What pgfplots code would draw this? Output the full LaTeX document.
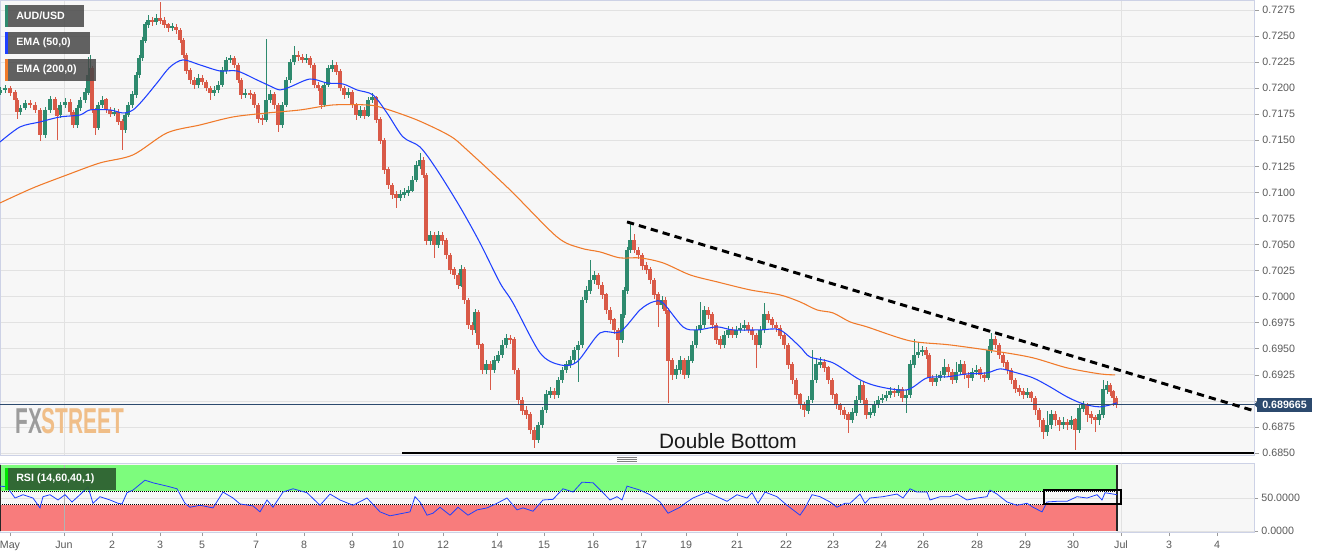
\documentclass[border=0pt]{standalone}
\usepackage{fontspec}
\setmainfont{Liberation Sans}
\usepackage{graphicx}
\usepackage{pgfplots}
\usepackage{pgfplotstable}
\pgfplotsset{compat=1.18}
\definecolor{cup}{HTML}{2E8A6E}
\definecolor{cdn}{HTML}{D95A48}
\definecolor{emaA}{HTML}{1F40FF}
\definecolor{emaB}{HTML}{F07A2A}
\definecolor{bg}{HTML}{F7F7F7}
\definecolor{framec}{HTML}{CDD2E6}
\definecolor{gridc}{HTML}{E2E2E2}
\definecolor{lbl}{HTML}{5A5A5A}
\definecolor{pricebox}{HTML}{2C4A6E}
\definecolor{rsigreen}{HTML}{7DFC7D}
\definecolor{rsired}{HTML}{F87C7C}
\definecolor{rsibox}{HTML}{2F6232}
\definecolor{fxgray}{HTML}{9C9C9C}
\definecolor{fxorange}{HTML}{F0BE88}

\pgfplotstableread{
x o h l c
0 0.7196 0.7201 0.7193 0.7198
5 0.7198 0.7203 0.7195 0.7200
10 0.7200 0.7202 0.7193 0.7196
15 0.7196 0.7198 0.7186 0.7189
17 0.7189 0.7191 0.7170 0.7177
20 0.7177 0.7184 0.7174 0.7181
25 0.7181 0.7189 0.7179 0.7186
30 0.7186 0.7189 0.7181 0.7184
35 0.7184 0.7187 0.7176 0.7179
40 0.7179 0.7181 0.7149 0.7155
45 0.7155 0.7182 0.7152 0.7179
50 0.7179 0.7193 0.7176 0.7189
55 0.7189 0.7192 0.7176 0.7179
57 0.7179 0.7181 0.7150 0.7174
60 0.7174 0.7187 0.7171 0.7184
65 0.7184 0.7191 0.7181 0.7187
70 0.7187 0.7190 0.7174 0.7177
73 0.7177 0.7179 0.7162 0.7165
77 0.7165 0.7184 0.7162 0.7181
80 0.7181 0.7192 0.7178 0.7189
85 0.7189 0.7200 0.7186 0.7196
88 0.7196 0.7230 0.7194 0.7213
90 0.7213 0.7232 0.7210 0.7219
92 0.7219 0.7221 0.7176 0.7179
95 0.7179 0.7181 0.7155 0.7162
98 0.7162 0.7187 0.7160 0.7184
102 0.7184 0.7193 0.7181 0.7189
106 0.7189 0.7191 0.7176 0.7179
110 0.7179 0.7182 0.7172 0.7176
114 0.7176 0.7181 0.7173 0.7177
118 0.7177 0.7180 0.7165 0.7168
122 0.7168 0.7170 0.7141 0.7160
125 0.7160 0.7176 0.7157 0.7174
128 0.7174 0.7187 0.7172 0.7184
132 0.7184 0.7197 0.7181 0.7194
136 0.7194 0.7216 0.7191 0.7213
139 0.7213 0.7232 0.7210 0.7229
142 0.7229 0.7249 0.7226 0.7246
145 0.7246 0.7264 0.7243 0.7261
148 0.7261 0.7270 0.7258 0.7265
152 0.7265 0.7268 0.7260 0.7264
156 0.7264 0.7271 0.7261 0.7267
160 0.7267 0.7283 0.7262 0.7265
164 0.7265 0.7268 0.7258 0.7261
168 0.7261 0.7263 0.7254 0.7258
172 0.7258 0.7263 0.7255 0.7259
176 0.7259 0.7262 0.7252 0.7256
180 0.7256 0.7258 0.7243 0.7246
183 0.7246 0.7248 0.7229 0.7232
186 0.7232 0.7234 0.7214 0.7217
190 0.7217 0.7219 0.7204 0.7208
194 0.7208 0.7211 0.7199 0.7203
198 0.7203 0.7214 0.7200 0.7210
202 0.7210 0.7213 0.7203 0.7206
206 0.7206 0.7208 0.7197 0.7200
210 0.7200 0.7202 0.7189 0.7196
214 0.7196 0.7202 0.7193 0.7198
218 0.7198 0.7207 0.7195 0.7203
222 0.7203 0.7220 0.7201 0.7217
226 0.7217 0.7230 0.7214 0.7227
230 0.7227 0.7232 0.7224 0.7229
234 0.7229 0.7231 0.7219 0.7222
238 0.7222 0.7224 0.7205 0.7208
241 0.7208 0.7210 0.7190 0.7194
245 0.7194 0.7199 0.7191 0.7195
250 0.7195 0.7198 0.7190 0.7194
254 0.7194 0.7196 0.7181 0.7184
258 0.7184 0.7186 0.7167 0.7171
262 0.7171 0.7174 0.7165 0.7170
266 0.7170 0.7247 0.7168 0.7189
270 0.7189 0.7198 0.7186 0.7194
274 0.7194 0.7196 0.7180 0.7184
278 0.7184 0.7186 0.7158 0.7165
282 0.7165 0.7187 0.7162 0.7184
286 0.7184 0.7211 0.7182 0.7208
290 0.7208 0.7228 0.7205 0.7225
294 0.7225 0.7241 0.7222 0.7232
298 0.7232 0.7236 0.7226 0.7230
302 0.7230 0.7233 0.7224 0.7227
306 0.7227 0.7233 0.7224 0.7229
310 0.7229 0.7231 0.7219 0.7222
314 0.7222 0.7224 0.7200 0.7203
318 0.7203 0.7206 0.7197 0.7200
321 0.7200 0.7202 0.7180 0.7184
324 0.7184 0.7206 0.7182 0.7203
328 0.7203 0.7222 0.7201 0.7219
332 0.7219 0.7227 0.7216 0.7222
336 0.7222 0.7225 0.7213 0.7216
340 0.7216 0.7218 0.7197 0.7200
344 0.7200 0.7202 0.7190 0.7194
348 0.7194 0.7200 0.7191 0.7196
352 0.7196 0.7198 0.7181 0.7184
356 0.7184 0.7186 0.7170 0.7174
360 0.7174 0.7183 0.7171 0.7179
364 0.7179 0.7182 0.7171 0.7174
368 0.7174 0.7192 0.7172 0.7189
372 0.7189 0.7195 0.7186 0.7191
376 0.7191 0.7193 0.7167 0.7170
380 0.7170 0.7172 0.7147 0.7150
384 0.7150 0.7152 0.7118 0.7122
388 0.7122 0.7124 0.7103 0.7107
392 0.7107 0.7109 0.7094 0.7098
396 0.7098 0.7101 0.7085 0.7095
400 0.7095 0.7102 0.7092 0.7098
404 0.7098 0.7104 0.7095 0.7100
408 0.7100 0.7106 0.7097 0.7102
412 0.7102 0.7116 0.7100 0.7112
416 0.7112 0.7130 0.7110 0.7126
420 0.7126 0.7138 0.7123 0.7131
423 0.7131 0.7134 0.7114 0.7117
426 0.7117 0.7119 0.7050 0.7054
430 0.7054 0.7063 0.7050 0.7059
434 0.7059 0.7062 0.7037 0.7050
438 0.7050 0.7063 0.7047 0.7059
442 0.7059 0.7062 0.7050 0.7054
446 0.7054 0.7056 0.7036 0.7040
450 0.7040 0.7042 0.7022 0.7026
454 0.7026 0.7029 0.7017 0.7021
458 0.7021 0.7023 0.7007 0.7011
461 0.7011 0.7030 0.7009 0.7026
464 0.7026 0.7028 0.6993 0.6997
468 0.6997 0.6999 0.6969 0.6973
472 0.6973 0.6976 0.6963 0.6968
475 0.6968 0.6988 0.6965 0.6985
478 0.6985 0.6987 0.6950 0.6954
482 0.6954 0.6956 0.6926 0.6930
486 0.6930 0.6939 0.6926 0.6935
490 0.6935 0.6938 0.6911 0.6930
494 0.6930 0.6943 0.6927 0.6939
498 0.6939 0.6948 0.6936 0.6944
502 0.6944 0.6958 0.6941 0.6954
506 0.6954 0.6964 0.6951 0.6960
510 0.6960 0.6963 0.6955 0.6959
514 0.6959 0.6961 0.6926 0.6930
518 0.6930 0.6932 0.6897 0.6901
522 0.6901 0.6904 0.6887 0.6891
526 0.6891 0.6895 0.6883 0.6887
530 0.6887 0.6889 0.6868 0.6872
534 0.6872 0.6875 0.6855 0.6863
538 0.6863 0.6880 0.6860 0.6877
542 0.6877 0.6894 0.6874 0.6891
546 0.6891 0.6910 0.6888 0.6906
550 0.6906 0.6913 0.6903 0.6909
554 0.6909 0.6912 0.6902 0.6906
558 0.6906 0.6923 0.6903 0.6920
562 0.6920 0.6933 0.6917 0.6930
566 0.6930 0.6938 0.6927 0.6935
570 0.6935 0.6943 0.6932 0.6939
574 0.6939 0.6952 0.6936 0.6949
578 0.6949 0.6958 0.6918 0.6954
582 0.6954 0.7000 0.6951 0.6997
586 0.6997 0.7010 0.6994 0.7006
590 0.7006 0.7035 0.7003 0.7016
594 0.7016 0.7025 0.7012 0.7021
598 0.7021 0.7023 0.7007 0.7011
602 0.7011 0.7014 0.6998 0.7002
606 0.7002 0.7004 0.6983 0.6987
610 0.6987 0.6990 0.6974 0.6978
614 0.6978 0.6980 0.6964 0.6968
618 0.6968 0.6970 0.6942 0.6959
622 0.6959 0.6986 0.6956 0.6983
624 0.6983 0.7009 0.6980 0.7006
627 0.7006 0.7048 0.7003 0.7045
630 0.7045 0.7071 0.7042 0.7054
634 0.7054 0.7060 0.7042 0.7045
638 0.7045 0.7048 0.7036 0.7040
642 0.7040 0.7042 0.7026 0.7030
646 0.7030 0.7033 0.7022 0.7026
650 0.7026 0.7028 0.7012 0.7016
654 0.7016 0.7018 0.6998 0.7002
658 0.7002 0.7004 0.6971 0.6992
662 0.6992 0.7001 0.6988 0.6997
665 0.6997 0.7000 0.6983 0.6987
668 0.6987 0.6989 0.6898 0.6939
672 0.6939 0.6941 0.6920 0.6925
676 0.6925 0.6934 0.6921 0.6930
680 0.6930 0.6943 0.6926 0.6939
684 0.6939 0.6941 0.6921 0.6925
688 0.6925 0.6943 0.6922 0.6939
692 0.6939 0.6958 0.6936 0.6954
696 0.6954 0.6972 0.6951 0.6968
700 0.6968 0.6995 0.6965 0.6973
704 0.6973 0.6991 0.6970 0.6987
708 0.6987 0.6990 0.6979 0.6983
712 0.6983 0.6985 0.6969 0.6973
716 0.6973 0.6975 0.6955 0.6959
720 0.6959 0.6962 0.6950 0.6954
724 0.6954 0.6967 0.6951 0.6963
728 0.6963 0.6972 0.6960 0.6968
732 0.6968 0.6971 0.6960 0.6963
736 0.6963 0.6972 0.6960 0.6968
740 0.6968 0.6975 0.6965 0.6970
744 0.6970 0.6978 0.6967 0.6973
748 0.6973 0.6976 0.6965 0.6968
752 0.6968 0.6971 0.6959 0.6963
756 0.6963 0.6965 0.6932 0.6954
760 0.6954 0.6972 0.6951 0.6968
764 0.6968 0.6994 0.6965 0.6983
768 0.6983 0.6986 0.6975 0.6978
772 0.6978 0.6981 0.6970 0.6973
776 0.6973 0.6976 0.6966 0.6970
780 0.6970 0.6973 0.6959 0.6963
784 0.6963 0.6966 0.6950 0.6954
788 0.6954 0.6956 0.6931 0.6935
792 0.6935 0.6937 0.6916 0.6920
796 0.6920 0.6922 0.6902 0.6906
800 0.6906 0.6908 0.6892 0.6896
804 0.6896 0.6899 0.6885 0.6891
808 0.6891 0.6905 0.6888 0.6901
812 0.6901 0.6949 0.6898 0.6920
816 0.6920 0.6940 0.6917 0.6935
820 0.6935 0.6942 0.6932 0.6937
824 0.6937 0.6940 0.6928 0.6932
828 0.6932 0.6934 0.6916 0.6920
832 0.6920 0.6922 0.6902 0.6906
836 0.6906 0.6908 0.6892 0.6896
840 0.6896 0.6898 0.6887 0.6891
844 0.6891 0.6894 0.6883 0.6887
848 0.6887 0.6889 0.6869 0.6882
852 0.6882 0.6893 0.6879 0.6889
856 0.6889 0.6905 0.6886 0.6901
860 0.6901 0.6919 0.6898 0.6915
863 0.6915 0.6918 0.6897 0.6901
866 0.6901 0.6903 0.6883 0.6887
870 0.6887 0.6893 0.6884 0.6889
874 0.6889 0.6900 0.6886 0.6896
878 0.6896 0.6905 0.6893 0.6901
882 0.6901 0.6907 0.6898 0.6903
886 0.6903 0.6910 0.6900 0.6906
890 0.6906 0.6913 0.6903 0.6909
894 0.6909 0.6912 0.6904 0.6908
898 0.6908 0.6915 0.6905 0.6911
902 0.6911 0.6913 0.6899 0.6903
906 0.6903 0.6910 0.6888 0.6906
910 0.6906 0.6939 0.6903 0.6935
914 0.6935 0.6959 0.6932 0.6944
918 0.6944 0.6957 0.6941 0.6947
922 0.6947 0.6953 0.6943 0.6949
926 0.6949 0.6952 0.6940 0.6944
929 0.6944 0.6946 0.6918 0.6922
932 0.6922 0.6925 0.6914 0.6918
936 0.6918 0.6926 0.6914 0.6922
940 0.6922 0.6929 0.6919 0.6925
944 0.6925 0.6940 0.6922 0.6932
948 0.6932 0.6935 0.6924 0.6928
952 0.6928 0.6931 0.6916 0.6920
956 0.6920 0.6937 0.6917 0.6928
960 0.6928 0.6939 0.6925 0.6935
964 0.6935 0.6938 0.6921 0.6925
968 0.6925 0.6928 0.6912 0.6922
972 0.6922 0.6932 0.6919 0.6928
976 0.6928 0.6934 0.6925 0.6930
980 0.6930 0.6933 0.6921 0.6925
984 0.6925 0.6928 0.6918 0.6922
988 0.6922 0.6953 0.6920 0.6949
991 0.6949 0.6965 0.6946 0.6959
995 0.6959 0.6962 0.6950 0.6954
999 0.6954 0.6956 0.6940 0.6944
1003 0.6944 0.6946 0.6933 0.6937
1007 0.6937 0.6939 0.6926 0.6930
1011 0.6930 0.6932 0.6916 0.6920
1015 0.6920 0.6922 0.6908 0.6912
1019 0.6912 0.6915 0.6905 0.6909
1023 0.6909 0.6912 0.6902 0.6906
1027 0.6906 0.6912 0.6903 0.6908
1031 0.6908 0.6910 0.6899 0.6903
1035 0.6903 0.6905 0.6887 0.6891
1039 0.6891 0.6893 0.6875 0.6882
1043 0.6882 0.6884 0.6863 0.6870
1047 0.6870 0.6890 0.6866 0.6877
1051 0.6877 0.6891 0.6873 0.6887
1055 0.6887 0.6890 0.6876 0.6882
1059 0.6882 0.6885 0.6871 0.6877
1063 0.6877 0.6885 0.6873 0.6880
1067 0.6880 0.6883 0.6872 0.6877
1071 0.6877 0.6886 0.6873 0.6882
1075 0.6882 0.6884 0.6853 0.6872
1079 0.6872 0.6897 0.6869 0.6893
1083 0.6893 0.6900 0.6889 0.6896
1087 0.6896 0.6898 0.6880 0.6887
1091 0.6887 0.6890 0.6878 0.6884
1095 0.6884 0.6887 0.6870 0.6882
1099 0.6882 0.6891 0.6877 0.6887
1103 0.6887 0.6920 0.6884 0.6911
1107 0.6911 0.6919 0.6907 0.6915
1110 0.6915 0.6917 0.6905 0.6909
1113 0.6909 0.6911 0.6895 0.6903
1116 0.6903 0.6905 0.6893 0.6897
}\candles

\begin{document}
\begin{tikzpicture}
\useasboundingbox (0pt,0pt) rectangle (998.25pt,-418.5pt);
\fill[white] (0pt,0pt) rectangle (998.25pt,-418.5pt);

% ---------------- main price panel ----------------
\begin{axis}[
  at={(0pt,-0.375pt)}, anchor=north west, scale only axis,
  width=940.5pt, height=340.875pt,
  xmin=0, xmax=1254, ymin=0.68481, ymax=0.72841,
  axis background/.style={fill=bg},
  axis line style={framec, line width=0.75pt},
  xtick=\empty,
  ytick={0.6850,0.6875,0.6900,0.6925,0.6950,0.6975,0.7000,0.7025,0.7050,0.7075,0.7100,0.7125,0.7150,0.7175,0.7200,0.7225,0.7250,0.7275},
  yticklabels={0.6850,0.6875,{},0.6925,0.6950,0.6975,0.7000,0.7025,0.7050,0.7075,0.7100,0.7125,0.7150,0.7175,0.7200,0.7225,0.7250,0.7275},
  ytick pos=right, yticklabel pos=right, tick align=outside,
  major tick length=3.8pt,
  tick style={lbl!60, line width=0.5pt},
  yticklabel style={font=\fontsize{8}{9}\selectfont, text=lbl, xshift=-1pt},
  ymajorgrids, grid style={gridc, line width=0.6pt},
]
\draw[gridc, line width=0.6pt] (axis cs:64,0.68481) -- (axis cs:64,0.72841);
\draw[gridc, line width=0.6pt] (axis cs:1121,0.68481) -- (axis cs:1121,0.72841);

% wicks
\addplot[draw=none, forget plot, restrict expr to domain={\thisrow{c}-\thisrow{o}}{0:1},
  error bars/.cd, y dir=both, y explicit, error mark=none,
  error bar style={draw=cup, line width=0.65pt, solid}]
  table[x=x, y expr={(\thisrow{h}+\thisrow{l})/2}, y error expr={(\thisrow{h}-\thisrow{l})/2}] {\candles};
\addplot[draw=none, forget plot, restrict expr to domain={\thisrow{c}-\thisrow{o}}{-1:-0.00001},
  error bars/.cd, y dir=both, y explicit, error mark=none,
  error bar style={draw=cdn, line width=0.65pt, solid}]
  table[x=x, y expr={(\thisrow{h}+\thisrow{l})/2}, y error expr={(\thisrow{h}-\thisrow{l})/2}] {\candles};
% bodies
\addplot[draw=none, forget plot, restrict expr to domain={\thisrow{c}-\thisrow{o}}{0:1},
  error bars/.cd, y dir=both, y explicit, error mark=none,
  error bar style={draw=cup, line width=2.5pt, solid}]
  table[x=x, y expr={(\thisrow{o}+\thisrow{c})/2}, y error expr={abs(\thisrow{c}-\thisrow{o})/2+0.00002}] {\candles};
\addplot[draw=none, forget plot, restrict expr to domain={\thisrow{c}-\thisrow{o}}{-1:-0.00001},
  error bars/.cd, y dir=both, y explicit, error mark=none,
  error bar style={draw=cdn, line width=2.5pt, solid}]
  table[x=x, y expr={(\thisrow{o}+\thisrow{c})/2}, y error expr={abs(\thisrow{c}-\thisrow{o})/2+0.00002}] {\candles};

% EMA 200
\addplot[emaB, line width=0.8pt, smooth] coordinates {
(0,0.70899) (33,0.71043) (67,0.71168) (100,0.71283) (133,0.71360) (167,0.71571) (200,0.71647)
(233,0.71724) (267,0.71762) (300,0.71791) (333,0.71839) (367,0.71839) (383,0.71810) (417,0.71695)
(450,0.71542) (467,0.71408) (510,0.71024) (557,0.70573) (580,0.70468) (600,0.70429) (620,0.70372)
(640,0.70372) (663,0.70324) (690,0.70209) (717,0.70142) (750,0.70065) (780,0.70017) (800,0.69950)
(817,0.69873) (833,0.69844) (850,0.69758) (867,0.69710) (910,0.69576) (950,0.69537) (1000,0.69470)
(1033,0.69413) (1067,0.69317) (1100,0.69259) (1115,0.69250)};
% EMA 50
\addplot[emaA, line width=0.8pt, smooth] coordinates {
(0,0.71484) (20,0.71628) (40,0.71676) (60,0.71724) (80,0.71743) (90,0.71791) (110,0.71791)
(123,0.71762) (133,0.71791) (143,0.71887) (157,0.72050) (170,0.72203) (183,0.72271) (200,0.72223)
(220,0.72165) (237,0.72165) (257,0.72079) (270,0.72021) (280,0.71983) (290,0.72012) (310,0.72088)
(327,0.72050) (343,0.72040) (357,0.71983) (373,0.71935) (387,0.71762) (403,0.71532) (420,0.71436)
(437,0.71216) (460,0.70861) (480,0.70516) (500,0.70132) (513,0.69940) (540,0.69461) (560,0.69346)
(577,0.69374) (600,0.69652) (620,0.69662) (640,0.69873) (653,0.69950) (663,0.69940) (683,0.69710)
(697,0.69681) (717,0.69710) (733,0.69681) (760,0.69681) (780,0.69681) (800,0.69519) (810,0.69422)
(833,0.69365) (860,0.69202) (880,0.69135) (907,0.69106) (927,0.69221) (947,0.69231) (967,0.69259)
(987,0.69269) (1000,0.69307) (1013,0.69279) (1033,0.69221) (1050,0.69135) (1067,0.69039)
(1083,0.68972) (1100,0.68943) (1117,0.68981)};

% current price line
\addplot[pricebox, line width=0.8pt] coordinates {(0,0.689665) (1254,0.689665)};
% trend line
\addplot[black, line width=2.2pt, dash pattern=on 5.5pt off 3.8pt] coordinates {(627,0.70717) (1254,0.68905)};
% double bottom support
\addplot[black, line width=2.2pt] coordinates {(402,0.6850) (1254,0.6850)};
\end{axis}

% ---------------- RSI panel ----------------
\begin{axis}[
  at={(0pt,-347.25pt)}, anchor=north west, scale only axis,
  width=940.5pt, height=51.75pt,
  xmin=0, xmax=1254, ymin=-1.5, ymax=103,
  axis background/.style={fill=bg},
  axis line style={framec, line width=0.75pt},
  ytick={0,50}, yticklabels={0.0000,50.0000},
  ytick pos=right, yticklabel pos=right,
  xtick={10,64,112,160,202,256,304,352,398,443,497,544,593,641,686,737,786,833,881,923,977,1025,1073,1121,1169,1217},
  xticklabels={May,Jun,2,3,5,7,8,9,10,12,14,15,16,17,19,21,22,23,24,26,28,29,30,Jul,3,4},
  xtick pos=left, tick align=outside,
  major tick length=3pt,
  tick style={lbl!60, line width=0.5pt},
  yticklabel style={font=\fontsize{8}{9}\selectfont, text=lbl, xshift=-1pt},
  xticklabel style={font=\fontsize{8}{9}\selectfont, text=lbl},
]
\fill[rsigreen] (axis cs:0,60) rectangle (axis cs:1117,100);
\fill[rsired] (axis cs:0,0) rectangle (axis cs:1117,40);
\draw[gridc, line width=0.6pt] (axis cs:0,50) -- (axis cs:1254,50);
\draw[gridc, line width=0.6pt] (axis cs:1117,0) -- (axis cs:1254,0);
\draw[gridc, line width=0.6pt] (axis cs:1121,-1.5) -- (axis cs:1121,103);
\draw[black!30, line width=0.6pt] (axis cs:64,0) -- (axis cs:64,100);
\draw[black, densely dotted, line width=0.5pt] (axis cs:0,60) -- (axis cs:1117,60);
\draw[black, densely dotted, line width=0.5pt] (axis cs:0,40) -- (axis cs:1117,40);
\draw[black!85, line width=0.8pt] (axis cs:1117,0) -- (axis cs:1117,100);
\draw[black!85, line width=0.8pt] (axis cs:0.5,0) -- (axis cs:0.5,100);
\addplot[emaA, line width=0.6pt] coordinates {
(0,68) (7,67) (15,50) (23,55) (33,50) (40,35) (43,52) (50,55) (58,47) (65,55) (72,44) (80,55)
(88,67) (93,42) (100,52) (110,47) (118,42) (122,41) (127,58) (133,62) (145,77) (153,73) (167,68)
(177,64) (185,42) (190,36) (200,39) (213,35) (223,59) (233,50) (240,41) (253,38) (260,29) (267,47)
(273,36) (283,59) (293,64) (307,58) (320,39) (330,56) (340,47) (353,39) (367,50) (380,29) (390,23)
(400,26) (410,29) (415,52) (420,44) (427,24) (433,27) (440,36) (450,24) (458,36) (468,24) (477,32)
(487,35) (497,42) (507,50) (517,32) (523,35) (533,30) (543,47) (553,48) (563,64) (573,59) (582,74)
(593,73) (603,58) (610,47) (617,52) (622,47) (627,68) (640,62) (650,55) (660,44) (668,27) (680,36)
(687,44) (693,50) (707,59) (717,52) (727,45) (737,55) (747,50) (752,58) (758,42) (765,59) (777,52)
(787,39) (800,24) (805,35) (812,55) (820,52) (830,44) (837,36) (845,42) (850,42) (860,56) (865,42)
(870,50) (883,52) (897,56) (903,50) (910,64) (917,59) (927,59) (930,47) (940,52) (950,52) (957,56)
(967,47) (977,50) (987,52) (990,62) (997,56) (1007,44) (1017,39) (1027,42) (1033,36) (1042,29)
(1047,44) (1057,45) (1067,45) (1077,52) (1087,50) (1097,55) (1102,47) (1105,58) (1117,55)};
\draw[black, line width=2pt] (axis cs:1044,41) rectangle (axis cs:1121,62);
\end{axis}

% ---------------- overlays (pixel units) ----------------
\begin{scope}[x=0.75pt, y=-0.75pt]
% legend boxes
\fill[black!72, opacity=0.85] (5,5) rectangle (84,27);
\fill[cup] (5,5) rectangle (7.5,27);
\node[anchor=west, text=white, font=\bfseries\fontsize{8}{9}\selectfont, inner sep=0] at (16,16) {AUD/USD};
\fill[black!72, opacity=0.85] (5,32) rectangle (90,54);
\fill[emaA] (5,32) rectangle (7.5,54);
\node[anchor=west, text=white, font=\bfseries\fontsize{8}{9}\selectfont, inner sep=0] at (16,43) {EMA (50,0)};
\fill[black!72, opacity=0.85] (5,59) rectangle (96,81);
\fill[emaB] (5,59) rectangle (7.5,81);
\node[anchor=west, text=white, font=\bfseries\fontsize{8}{9}\selectfont, inner sep=0] at (16,70) {EMA (200,0)};
% RSI label
\fill[rsibox, opacity=0.95] (5,468) rectangle (116,490);
\fill[green!90!black] (5,468) rectangle (8,490);
\node[anchor=west, text=white, font=\bfseries\fontsize{8}{9}\selectfont, inner sep=0] at (16,479) {RSI (14,60,40,1)};
% price box
\fill[pricebox] (1257,397.5) rectangle (1312,411.5);
\fill[pricebox] (1254,404.5) -- (1257.5,401) -- (1257.5,408) -- cycle;
\node[text=white, font=\bfseries\fontsize{8}{9}\selectfont, inner sep=0] at (1284.5,404.5) {0.689665};
% Double Bottom
\node[font=\fontsize{15.6}{18}\selectfont, text=black!90, inner sep=0] at (728,441) {Double Bottom};
% FXSTREET watermark
\node[anchor=west, inner sep=0] at (15,421) {\scalebox{0.58}[1]{\fontsize{27}{27}\selectfont\bfseries\textcolor{fxgray}{FX}\textcolor{fxorange}{STREET}}};
% grip between panels
\draw[gray, line width=0.5pt] (617,457.5) -- (637,457.5);
\draw[gray, line width=0.5pt] (617,459.5) -- (637,459.5);
\draw[gray, line width=0.5pt] (617,461.5) -- (637,461.5);
\end{scope}
\end{tikzpicture}
\end{document}
